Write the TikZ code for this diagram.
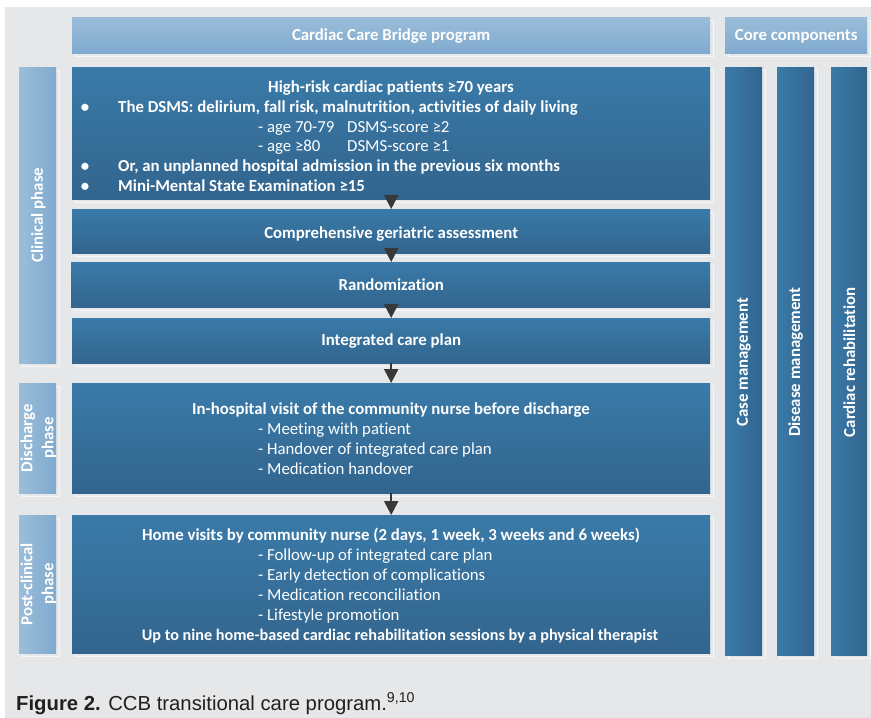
\documentclass[tikz,border=0pt]{standalone}
\usepackage{fontspec}
\setmainfont{Carlito}[Ligatures=NoCommon]
\newfontfamily\capfont{Liberation Sans}
\usetikzlibrary{arrows.meta}
\pgfdeclarelayer{background}
\pgfsetlayers{background,main}

\definecolor{panel}{HTML}{E6E7E9}
\definecolor{edgeline}{HTML}{F7F7F8}
\definecolor{deeptop}{HTML}{3A7AA8}
\definecolor{deepbot}{HTML}{32658E}
\definecolor{paletop}{HTML}{9BBDD9}
\definecolor{palebot}{HTML}{7FAACE}
\definecolor{arrowgray}{HTML}{383838}
\definecolor{capgray}{HTML}{231F20}

\tikzset{
  blk/.style={draw=none, inner sep=0pt, anchor=north west},
  mainbox/.style={blk, top color=deeptop, bottom color=deepbot},
  headbox/.style={blk, top color=paletop, bottom color=palebot},
  phasebar/.style={blk, left color=paletop, right color=palebot},
  corecol/.style={blk, left color=deeptop, right color=deepbot},
  boldtxt/.style={text=white, inner sep=0pt, anchor=mid, font=\bfseries\fontsize{16.8}{21}\selectfont},
  plaintxt/.style={text=white, inner sep=0pt, anchor=mid west, font=\fontsize{16.8}{21}\selectfont},
  boldleft/.style={boldtxt, anchor=mid west},
  vlabel/.style={boldtxt, anchor=center, rotate=90, align=center},
  flow/.style={draw=arrowgray, line width=2.2pt, -{Triangle[length=14pt,width=14pt]}},
  offframe/.style={draw=edgeline, line width=1pt},
}

\begin{document}
\begin{tikzpicture}[x=1pt,y=-1pt]
\useasboundingbox (0,0) rectangle (871,718);

% headers
\node[headbox, minimum width=638pt, minimum height=36pt] (hprog) at (72,17) {};
\node[headbox, minimum width=142pt, minimum height=36pt] (hcore) at (725,17) {};
\node[boldtxt] (hprogt) at ([yshift=-3pt]hprog.center) {Cardiac Care Bridge program};
\node[boldtxt] (hcoret) at ([yshift=-3pt]hcore.center) {Core components};

% phase bars
\node[phasebar, minimum width=37pt, minimum height=296pt] (pclin) at (19,67) {};
\node[phasebar, minimum width=37pt, minimum height=110pt] (pdis) at (19,383) {};
\node[phasebar, minimum width=37pt, minimum height=138pt] (ppost) at (19,515) {};
\node[vlabel] (pclint) at ([xshift=0.5pt]pclin.center) {Clinical phase};
\node[vlabel] (pdist) at ([xshift=0.5pt]pdis.center) {Discharge\\phase};
\node[vlabel] (ppostt) at ([xshift=0.5pt]ppost.center) {Post-clinical\\phase};

% main flow boxes
\node[mainbox, minimum width=638pt, minimum height=132pt] (b1) at (72,67) {};
\node[mainbox, minimum width=638pt, minimum height=44pt] (b2) at (72,209) {};
\node[mainbox, minimum width=639pt, minimum height=45pt] (b3) at (71,262) {};
\node[mainbox, minimum width=638pt, minimum height=45pt] (b4) at (72,318) {};
\node[mainbox, minimum width=638pt, minimum height=110pt] (b5) at (72,383) {};
\node[mainbox, minimum width=638pt, minimum height=138pt] (b6) at (72,515) {};

% core component columns
\node[corecol, minimum width=37pt, minimum height=588pt] (c1) at (725,67) {};
\node[corecol, minimum width=37pt, minimum height=588pt] (c2) at (777,67) {};
\node[corecol, minimum width=36pt, minimum height=588pt] (c3) at (831,67) {};
\node[vlabel] (c1t) at ([yshift=-1pt]c1.center) {Case management};
\node[vlabel] (c2t) at ([yshift=-1pt]c2.center) {Disease management};
\node[vlabel] (c3t) at ([yshift=-1pt]c3.center) {Cardiac rehabilitation};

% box 1: inclusion criteria
\node[boldtxt] (l11) at (391,90) {High-risk cardiac patients ≥70 years};
\node[boldtxt] (k12) at (85,110) {•};
\node[boldleft] (l12) at (118,110) {The DSMS: delirium, fall risk, malnutrition, activities of daily living};
\node[plaintxt] (l13a) at (258,130) {- age 70-79};
\node[plaintxt] (l13b) at (347,130) {DSMS-score ≥2};
\node[plaintxt] (l14a) at (258,149.5) {- age ≥80};
\node[plaintxt] (l14b) at (347,149.5) {DSMS-score ≥1};
\node[boldtxt] (k15) at (85,169.5) {•};
\node[boldleft] (l15) at (118,169.5) {Or, an unplanned hospital admission in the previous six months};
\node[boldtxt] (k16) at (85,189) {•};
\node[boldleft] (l16) at (118,189) {Mini-Mental State Examination ≥15};

% boxes 2-4
\node[boldtxt] (t2) at ([yshift=-5pt]b2.center) {Comprehensive geriatric assessment};
\node[boldtxt] (t3) at ([xshift=0.5pt,yshift=-3.5pt]b3.center) {Randomization};
\node[boldtxt] (t4) at ([yshift=-2.5pt]b4.center) {Integrated care plan};

% box 5: discharge
\node[boldtxt] (l51) at (391,412) {In-hospital visit of the community nurse before discharge};
\node[plaintxt] (l52) at (258,432) {- Meeting with patient};
\node[plaintxt] (l53) at (258,452) {- Handover of integrated care plan};
\node[plaintxt] (l54) at (258,472) {- Medication handover};

% box 6: post-clinical
\node[boldtxt] (l61) at (391,538) {Home visits by community nurse (2 days, 1 week, 3 weeks and 6 weeks)};
\node[plaintxt] (l62) at (258,558) {- Follow-up of integrated care plan};
\node[plaintxt] (l63) at (258,578) {- Early detection of complications};
\node[plaintxt] (l64) at (258,598) {- Medication reconciliation};
\node[plaintxt] (l65) at (258,618) {- Lifestyle promotion};
\node[boldtxt, font=\bfseries\fontsize{16.2}{21}\selectfont] (l66) at (400,638)
  {Up to nine home-based cardiac rehabilitation sessions by a physical therapist};

% flow arrows
\draw[flow] (b1.south) -- (b2.north);
\draw[flow] (b2.south) -- (b3.north -| b2.south);
\draw[flow] (b3.south -| b2.south) -- (b4.north);
\draw[flow] (b4.south) -- (b5.north);
\draw[flow] (b5.south) -- (b6.north);

% caption
\node[anchor=base west, inner sep=0pt, text=capgray,
      font=\capfont\fontsize{20.3}{23}\selectfont] (cap) at (16,710)
  {\textbf{Figure 2.} CCB transitional care program.\textsuperscript{9,10}};

% panel and offset frames behind everything
\begin{pgfonlayer}{background}
  \fill[white] (0,0) rectangle (871,718);
  \fill[panel] (5,7) rectangle (871,718);
  \foreach \n in {hprog,hcore,pclin,pdis,ppost,b1,b2,b3,b4,b5,b6,c1,c2,c3}
    \draw[offframe] ([shift={(3,3)}]\n.north west) rectangle ([shift={(3,3)}]\n.south east);
\end{pgfonlayer}
\end{tikzpicture}
\end{document}
